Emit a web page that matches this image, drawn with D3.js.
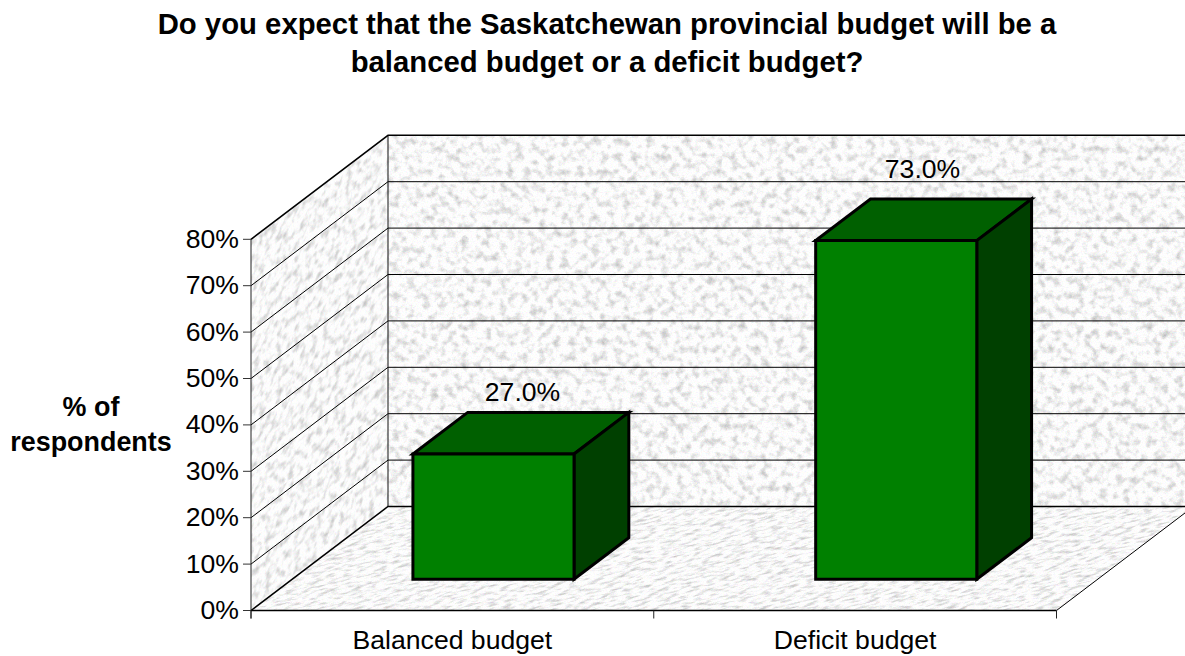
<!DOCTYPE html>
<html>
<head>
<meta charset="utf-8">
<script src="https://cdn.jsdelivr.net/npm/d3@7"></script>
<style>
html,body{margin:0;padding:0;background:#fff;overflow:hidden}
svg{display:block}
text{font-family:"Liberation Sans",Arial,sans-serif;fill:#000}
</style>
</head>
<body>
<svg id="chart" width="1185" height="656"></svg>
<script>
// Survey results
const categories = ["Balanced budget", "Deficit budget"];
const percentages = [27.0, 73.0];
const tickValues = [0, 10, 20, 30, 40, 50, 60, 70, 80];
const titleLines = [
  "Do you expect that the Saskatchewan provincial budget will be a",
  "balanced budget or a deficit budget?"
];
const axisTitleLines = ["% of", "respondents"];

const svg = d3.select("#chart");
const defs = svg.append("defs");

// Scales for the front plane of the 3-D box
const x = d3.scaleBand().domain(categories).range([251, 1056.5]);
const y = d3.scaleLinear().domain([0, 80]).range([610.5, 239.3]);
// Placement of the value labels above the bars
const labelX = d3.scalePoint().domain(categories).range([522.5, 922.5]);
const labelY = d3.scaleLinear().domain([27, 73]).range([401, 178.3]);

// Depth of the box, and how the gap/bar split divides it
const depthX = 137, depthY = -104;
const gapShare = 0.3, barShare = 0.4;

const back = (px, py) => [px + depthX, py + depthY];
const poly = pts => pts.map(p => p.join(",")).join(" ");

// Granite-style texture: pale grey mottling with fine coloured speckle
function granite(id, seed, matrix) {
  const f = defs.append("filter").attr("id", id + "F")
    .attr("x", 0).attr("y", 0).attr("width", 1).attr("height", 1)
    .attr("color-interpolation-filters", "sRGB");
  f.append("feTurbulence").attr("type", "fractalNoise")
    .attr("baseFrequency", 0.13).attr("numOctaves", 2).attr("seed", seed).attr("result", "coarse");
  f.append("feColorMatrix").attr("in", "coarse").attr("type", "matrix")
    .attr("values", "0.5 0 0 0 0.72  0.5 0 0 0 0.72  0.5 0 0 0 0.72  0 0 0 0 1").attr("result", "grey");
  f.append("feTurbulence").attr("type", "fractalNoise")
    .attr("baseFrequency", 0.8).attr("numOctaves", 1).attr("seed", seed + 5).attr("result", "fine");
  f.append("feColorMatrix").attr("in", "fine").attr("type", "matrix")
    .attr("values", "1 0 0 0 0  0 1 0 0 0  0 0 1 0 0  0 0 0 0 1").attr("result", "speck");
  f.append("feComposite").attr("in", "grey").attr("in2", "speck")
    .attr("operator", "arithmetic").attr("k1", 0).attr("k2", 1).attr("k3", 0.2).attr("k4", -0.1);
  const p = defs.append("pattern").attr("id", id)
    .attr("patternUnits", "userSpaceOnUse").attr("width", 900).attr("height", 700)
    .attr("patternTransform", matrix);
  p.append("rect").attr("width", 900).attr("height", 700).attr("filter", `url(#${id}F)`);
}
granite("texBack", 7, "matrix(1 0 0 1 0 0)");
granite("texSide", 11, "matrix(0.75 -0.57 0 1 0 0)");
granite("texFloor", 17, "matrix(1 0 -0.9 0.45 0 0)");

const plot = svg.append("g");
const x0 = x.range()[0], x1 = x.range()[1];
const yBase = y(0), yTop = y(80);

// Walls and floor
plot.append("polygon").attr("fill", "url(#texBack)")
  .attr("points", poly([back(x0, yTop), back(x1, yTop), back(x1, yBase), back(x0, yBase)]));
plot.append("polygon").attr("fill", "url(#texSide)")
  .attr("points", poly([[x0, yTop], back(x0, yTop), back(x0, yBase), [x0, yBase]]));
plot.append("polygon").attr("fill", "url(#texFloor)")
  .attr("points", poly([[x0, yBase], [x1, yBase], back(x1, yBase), back(x0, yBase)]));

// Gridlines across the side wall and back wall
const grid = plot.selectAll(".grid").data(tickValues).enter().append("g");
grid.append("polyline")
  .attr("fill", "none").attr("stroke", "#000")
  .attr("stroke-width", d => (d === 80 || d === 0) ? 1.5 : 1)
  .attr("points", d => poly([[x0, y(d)], back(x0, y(d)), back(x1, y(d))]));

// Box outlines
plot.append("line").attr("x1", x0).attr("x2", x0).attr("y1", yTop).attr("y2", yBase + 8)
  .attr("stroke", "#222").attr("stroke-width", 1);
const backBottom = back(x0, yBase);
plot.append("line").attr("x1", backBottom[0]).attr("x2", backBottom[0])
  .attr("y1", back(x0, yTop)[1]).attr("y2", backBottom[1])
  .attr("stroke", "#111").attr("stroke-width", 1);
plot.append("line").attr("x1", x0).attr("x2", x1).attr("y1", yBase).attr("y2", yBase)
  .attr("stroke", "#000").attr("stroke-width", 1.5);
plot.append("line").attr("x1", x1).attr("y1", yBase)
  .attr("x2", back(x1, yBase)[0]).attr("y2", back(x1, yBase)[1])
  .attr("stroke", "#000").attr("stroke-width", 1);

// Value axis ticks and labels
const yTicks = svg.append("g").selectAll("g").data(tickValues).enter().append("g");
yTicks.append("line").attr("x1", 243).attr("x2", x0).attr("y1", d => y(d)).attr("y2", d => y(d))
  .attr("stroke", "#333").attr("stroke-width", 1);
yTicks.append("text").attr("x", 239).attr("y", d => y(d) + 8.5)
  .attr("text-anchor", "end").attr("font-size", 26.6).text(d => d + "%");

// Category axis ticks and labels
const catEdges = [x0, x0 + x.bandwidth(), x1];
svg.append("g").selectAll("line").data(catEdges).enter().append("line")
  .attr("x1", d => d).attr("x2", d => d).attr("y1", yBase).attr("y2", yBase + 8)
  .attr("stroke", "#222").attr("stroke-width", 1);
svg.append("g").selectAll("text").data(categories).enter().append("text")
  .attr("x", d => x(d) + x.bandwidth() / 2).attr("y", 649)
  .attr("text-anchor", "middle").attr("font-size", 26.6).text(d => d);

// Bars: front, top and side faces
const barW = x.bandwidth() * barShare;
const bars = svg.append("g").selectAll("g")
  .data(categories.map((c, i) => ({ c, v: percentages[i] }))).enter().append("g");

const geom = d => {
  const ox = depthX * gapShare, oy = depthY * gapShare;
  const dx = depthX * barShare, dy = depthY * barShare;
  const l = x(d.c) + x.bandwidth() / 2 - barW / 2 + ox, r = l + barW;
  const b = yBase + oy, t = b - (yBase - y(d.v));
  return { l, r, b, t, dx, dy };
};
const face = (fill, pts) => sel => sel.append("polygon")
  .attr("fill", fill).attr("stroke", "#000").attr("stroke-width", 3).attr("stroke-linejoin", "miter")
  .attr("points", d => poly(pts(geom(d))));

bars.call(face("#006000", g => [[g.l, g.t], [g.r, g.t], [g.r + g.dx, g.t + g.dy], [g.l + g.dx, g.t + g.dy]]));
bars.call(face("#004000", g => [[g.r, g.t], [g.r + g.dx, g.t + g.dy], [g.r + g.dx, g.b + g.dy], [g.r, g.b]]));
bars.call(face("#008000", g => [[g.l, g.t], [g.r, g.t], [g.r, g.b], [g.l, g.b]]));

// Value labels above each bar
bars.append("text")
  .attr("x", d => labelX(d.c))
  .attr("y", d => labelY(d.v))
  .attr("text-anchor", "middle").attr("font-size", 26.6)
  .text(d => d.v.toFixed(1) + "%");

// Chart title and axis title
svg.append("g").selectAll("text").data(titleLines).enter().append("text")
  .attr("x", 607).attr("y", (d, i) => 34 + i * 38)
  .attr("text-anchor", "middle").attr("font-size", 29.3).attr("font-weight", "bold").text(d => d);
svg.append("g").selectAll("text").data(axisTitleLines).enter().append("text")
  .attr("x", 91).attr("y", (d, i) => 415.7 + i * 35)
  .attr("text-anchor", "middle").attr("font-size", 26.9).attr("font-weight", "bold").text(d => d);
</script>
</body>
</html>
